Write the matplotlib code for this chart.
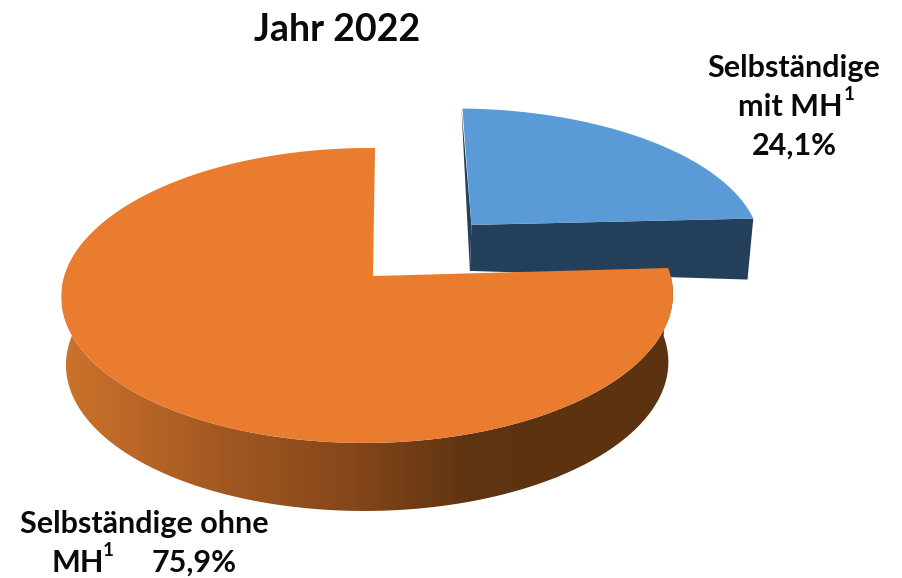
"""Exploded 3D pie of self-employed people with and without migration background."""
import numpy as np
import matplotlib
matplotlib.use("Agg")
import matplotlib.pyplot as plt
from matplotlib.colors import LinearSegmentedColormap
from matplotlib.patches import Polygon

TITLE = "Jahr 2022"
SHARE_MIT = 24.1
SHARE_OHNE = 75.9

BLUE_TOP = "#5a9ad6"
BLUE_SIDE = "#243f5a"
ORANGE_TOP = "#e97c2f"
ORANGE_SIDE = [(0.0, "#cc732b"), (0.277, "#a85b23"), (0.588, "#84461a"),
               (0.819, "#5f3412"), (1.0, "#5d3211")]

# projection of the tilted disc onto the canvas
APEX_X, APEX_Y = 373.0, 276.0
SCALE_X, SCALE_Y = 303.0, 144.9
PERSP_V, PERSP_U = 0.132, 0.018
SHEAR = 2.3
BLUE_OFFSET = (0.34, 0.372)
BLUE_STRETCH = 1.015


def project(u, v):
    w = 1 + PERSP_V * v + PERSP_U * u
    return APEX_X + (SCALE_X * u + SHEAR * v) / w, APEX_Y - SCALE_Y * v / w


def lower(x, y, drop):
    # the underside sits lower and is a bit narrower
    return x + (368 - x) * 0.015, y + drop


def arc(start, end, offset=(0.0, 0.0), stretch=1.0, n=240):
    t = np.radians(np.linspace(start, end, n))
    return project(stretch * np.cos(t) + offset[0], np.sin(t) + offset[1])


fig = plt.figure(figsize=(9.03, 5.78), dpi=100)
ax = fig.add_axes([0, 0, 1, 1])

# both slices start at twelve o'clock and run away from each other
end_angle = 90 - SHARE_MIT / 100 * 360

# blue slice, pulled out of the pie
bx, by = arc(90, end_angle, BLUE_OFFSET, BLUE_STRETCH)
ax_, ay_ = project(*BLUE_OFFSET)
ax.add_patch(Polygon([(bx[0] - 1, by[0]), (ax_, ay_), lower(ax_, ay_, 46)],
                     fc=BLUE_SIDE, ec="none"))
ax.add_patch(Polygon([(ax_, ay_), (bx[-1], by[-1]), lower(bx[-1], by[-1], 61),
                      lower(ax_, ay_, 46)], fc=BLUE_SIDE, ec="none"))
ax.add_patch(Polygon(np.r_[[[ax_, ay_]], np.c_[bx, by]], fc=BLUE_TOP, ec="none"))

# orange slice: rim with a left-to-right shading, then the top face
rx, ry = arc(end_angle, -195)
lx, ly = lower(rx, ry, 68)
rim = Polygon(np.r_[np.c_[rx, ry], np.c_[lx, ly][::-1]], fc="none", ec="none")
ax.add_patch(rim)
shade = LinearSegmentedColormap.from_list("rim", ORANGE_SIDE)
img = ax.imshow(np.linspace(0, 1, 256)[None, :], cmap=shade, aspect="auto",
                extent=(62, 560, 578, 0), zorder=1.5)
img.set_clip_path(rim)
# right of the gradient range the rim stays dark
ox, oy = arc(90, 360 + end_angle)
right = rx >= 555
ax.add_patch(Polygon(np.c_[rx[right], ry[right]].tolist()
                     + np.c_[lx[right], ly[right]][::-1].tolist(),
                     fc=ORANGE_SIDE[-1][1], ec="none", zorder=1.6))
ax.add_patch(Polygon(np.r_[[[APEX_X, APEX_Y]], np.c_[ox, oy]], fc=ORANGE_TOP,
                     ec="none", zorder=2))

ax.set_xlim(0, 903)
ax.set_ylim(578, 0)
ax.axis("off")

font = dict(family=["Lato", "DejaVu Sans"], fontweight="bold", color="#0a0a0a",
            va="center", zorder=3)
pct = lambda s: f"{s:.1f}%".replace(".", ",")

ax.text(337.5, 30, TITLE, fontsize=27, ha="center", **font)
ax.text(794, 68, "Selbständige", fontsize=22, ha="center", **font)
ax.text(738, 107, "mit MH", fontsize=22, ha="left", **font)
ax.text(844, 95, "1", fontsize=13.5, ha="left", **font)
ax.text(794, 146, pct(SHARE_MIT), fontsize=22, ha="center", **font)
ax.text(144, 524, "Selbständige ohne", fontsize=22, ha="center", **font)
ax.text(52, 563, "MH", fontsize=22, ha="left", **font)
ax.text(103, 551, "1", fontsize=13.5, ha="left", **font)
ax.text(194, 563, pct(SHARE_OHNE), fontsize=22, ha="center", **font)

fig.savefig("out.png", dpi=100, facecolor="white")
